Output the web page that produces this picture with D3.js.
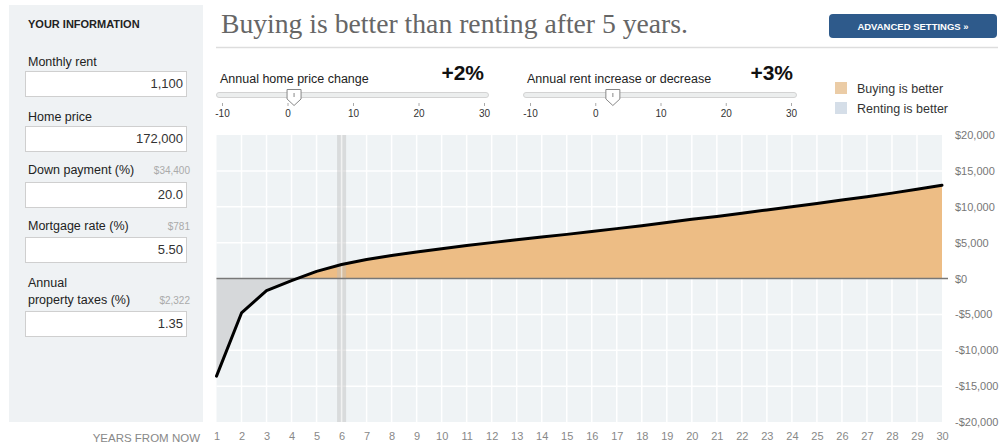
<!DOCTYPE html>
<html>
<head>
<meta charset="utf-8">
<script src="https://cdn.jsdelivr.net/npm/d3@7"></script>
<style>
  html, body { margin: 0; padding: 0; background: #fff; }
  svg { display: block; font-family: "Liberation Sans", Arial, sans-serif; }
</style>
</head>
<body>
<svg id="chart" width="1000" height="444"></svg>
<script>
// ---------- data ----------
const years = d3.range(1, 31);
const buyMinusRent = [
  -13600, -4800, -1700, -300, 1000, 1950, 2650, 3200, 3700, 4150,
  4600, 5000, 5400, 5800, 6150, 6550, 6950, 7350, 7800, 8250,
  8650, 9100, 9550, 10000, 10450, 10950, 11400, 11900, 12450, 13000
];
const yTicks = [-20000, -15000, -10000, -5000, 0, 5000, 10000, 15000, 20000];
const breakEvenYear = 6;
const title = "Buying is better than renting after 5 years.";

const inputLabels = [["Monthly rent"], ["Home price"], ["Down payment (%)"], ["Mortgage rate (%)"], ["Annual", "property taxes (%)"]];
const inputValues = ["1,100", "172,000", "20.0", "5.50", "1.35"];
const inputNotes = ["", "", "$34,400", "$781", "$2,322"];

const sliderLabels = ["Annual home price change", "Annual rent increase or decrease"];
const sliderValues = ["+2%", "+3%"];
const sliderThumbPos = [1, 2.7];
const sliderTicks = [-10, 0, 10, 20, 30];

const legendLabels = ["Buying is better", "Renting is better"];
const legendColors = ["#ebcca6", "#d5dee8"];

// ---------- drawing ----------
const svg = d3.select("#chart");
const hyphenFmt = v => (v < 0 ? "-" : "") + Math.abs(v);

// left panel
svg.append("rect").attr("x", 9).attr("y", 5).attr("width", 194).attr("height", 417).attr("fill", "#eff2f4");
svg.append("text").attr("x", 28).attr("y", 28).attr("font-size", 11).attr("font-weight", "bold")
  .attr("fill", "#222").text("YOUR INFORMATION");

const labelBase = [66, 121, 174, 230, 287];
const boxTop = [71, 126, 182, 237, 311];
inputLabels.forEach((lines, i) => {
  lines.forEach((ln, j) => {
    svg.append("text").attr("x", 28).attr("y", labelBase[i] + j * 16.5).attr("font-size", 12.5)
      .attr("fill", "#222").text(ln);
  });
  if (inputNotes[i]) {
    svg.append("text").attr("x", 190).attr("y", labelBase[i] + (lines.length - 1) * 16.5)
      .attr("text-anchor", "end").attr("font-size", 10).attr("fill", "#aaa").text(inputNotes[i]);
  }
  svg.append("rect").attr("x", 25.5).attr("y", boxTop[i] + 0.5).attr("width", 161).attr("height", 25)
    .attr("fill", "#fff").attr("stroke", "#cfcfcf");
  svg.append("text").attr("x", 183).attr("y", boxTop[i] + 17).attr("text-anchor", "end")
    .attr("font-size", 13).attr("fill", "#333").text(inputValues[i]);
});

// title
svg.append("text").attr("x", 221).attr("y", 33).attr("font-family", "'Liberation Serif', 'DejaVu Serif', serif")
  .attr("font-size", 27).attr("fill", "#666").attr("textLength", 467).attr("lengthAdjust", "spacingAndGlyphs")
  .text(title);
svg.append("line").attr("x1", 216).attr("x2", 998).attr("y1", 47.5).attr("y2", 47.5)
  .attr("stroke", "#ddd").attr("stroke-width", 1.5);

// button
svg.append("rect").attr("x", 829).attr("y", 14).attr("width", 168).attr("height", 24).attr("rx", 4)
  .attr("fill", "#2e5a8b");
svg.append("text").attr("x", 913).attr("y", 30).attr("text-anchor", "middle").attr("font-size", 9.5)
  .attr("font-weight", "bold").attr("fill", "#fff").text("ADVANCED SETTINGS \u00bb");

// sliders
const sliderRanges = [[222, 484], [530, 791]];
const trackRanges = [[216, 488], [523, 796]];
const valueRight = [484, 793];
sliderLabels.forEach((lab, i) => {
  const s = d3.scaleLinear().domain([-10, 30]).range(sliderRanges[i]);
  const g = svg.append("g");
  g.append("text").attr("x", trackRanges[i][0] + 4).attr("y", 83).attr("font-size", 12.5).attr("fill", "#222").text(lab);
  g.append("text").attr("x", valueRight[i]).attr("y", 80).attr("text-anchor", "end").attr("font-size", 21)
    .attr("font-weight", "bold").attr("fill", "#111").text(sliderValues[i]);
  g.append("rect").attr("x", trackRanges[i][0] + 0.5).attr("y", 92.5)
    .attr("width", trackRanges[i][1] - trackRanges[i][0]).attr("height", 5).attr("rx", 2.5)
    .attr("fill", "#eceeee").attr("stroke", "#d3d3d3");
  const ax = d3.axisBottom(s).tickValues(sliderTicks).tickSize(3).tickPadding(4).tickFormat(hyphenFmt);
  const ag = g.append("g").attr("transform", "translate(0,103)").call(ax);
  ag.select(".domain").remove();
  ag.selectAll("line").attr("stroke", "#aaa");
  ag.selectAll("text").attr("font-size", 10).attr("fill", "#333").attr("font-family", "'Liberation Sans', Arial, sans-serif");
  const tx = s(sliderThumbPos[i]);
  g.append("path")
    .attr("d", `M${tx - 7},89.5 L${tx + 7},89.5 L${tx + 7},99 L${tx},105.5 L${tx - 7},99 Z`)
    .attr("fill", "#fff").attr("stroke", "#888").attr("stroke-width", 1);
  g.append("line").attr("x1", tx).attr("x2", tx).attr("y1", 93).attr("y2", 97).attr("stroke", "#888");
});

// legend
legendLabels.forEach((lab, i) => {
  svg.append("rect").attr("x", 835).attr("y", 82 + i * 20).attr("width", 12).attr("height", 12).attr("fill", legendColors[i]);
  svg.append("text").attr("x", 857).attr("y", 93 + i * 20).attr("font-size", 12.5).attr("fill", "#333").text(lab);
});

// main chart
const x = d3.scaleLinear().domain([1, 30]).range([216.5, 942]);
const y = d3.scaleLinear().domain([-20000, 20000]).range([422, 135]);
const data = years.map((yr, i) => ({ yr, v: buyMinusRent[i] }));

svg.append("rect").attr("x", x(1)).attr("y", y(20000)).attr("width", x(30) - x(1))
  .attr("height", y(-20000) - y(20000)).attr("fill", "#eff3f5");

const grid = svg.append("g");
grid.selectAll(".vg").data(years.slice(1, -1)).join("line")
  .attr("x1", d => x(d)).attr("x2", d => x(d)).attr("y1", y(20000)).attr("y2", y(-20000))
  .attr("stroke", "#fff").attr("stroke-width", 1.5);
grid.selectAll(".hg").data(yTicks.slice(1, -1)).join("line")
  .attr("x1", x(1)).attr("x2", x(30)).attr("y1", d => y(d)).attr("y2", d => y(d))
  .attr("stroke", "#fff").attr("stroke-width", 1.5);

const defs = svg.append("defs");
defs.append("clipPath").attr("id", "above").append("rect")
  .attr("x", 0).attr("y", 0).attr("width", 1000).attr("height", y(0));
defs.append("clipPath").attr("id", "below").append("rect")
  .attr("x", 0).attr("y", y(0)).attr("width", 1000).attr("height", 444);

const area = d3.area().x(d => x(d.yr)).y0(y(0)).y1(d => y(d.v));
svg.append("path").datum(data).attr("d", area).attr("fill", "#edbd85").attr("clip-path", "url(#above)");
svg.append("path").datum(data).attr("d", area).attr("fill", "#d6d8da").attr("clip-path", "url(#below)");

// break-even band
svg.append("rect").attr("x", x(breakEvenYear) - 4.5).attr("y", y(20000)).attr("width", 9)
  .attr("height", y(-20000) - y(20000)).attr("fill", "rgba(190,190,190,0.45)");
svg.append("line").attr("x1", x(breakEvenYear)).attr("x2", x(breakEvenYear)).attr("y1", y(20000)).attr("y2", y(-20000))
  .attr("stroke", "rgba(255,255,255,0.55)").attr("stroke-width", 1.5);

// zero line
svg.append("line").attr("x1", x(1)).attr("x2", 948).attr("y1", y(0)).attr("y2", y(0))
  .attr("stroke", "#777").attr("stroke-width", 1.5);

// curve
svg.append("path").datum(data)
  .attr("d", d3.line().x(d => x(d.yr)).y(d => y(d.v)))
  .attr("fill", "none").attr("stroke", "#000").attr("stroke-width", 3)
  .attr("stroke-linejoin", "round").attr("stroke-linecap", "round");

// y axis
const fmt = d3.format(",");
const yAx = d3.axisRight(y).tickValues(yTicks).tickSize(0).tickPadding(0)
  .tickFormat(v => (v < 0 ? "-$" : "$") + fmt(Math.abs(v)));
const yg = svg.append("g").attr("transform", "translate(955,0)").call(yAx);
yg.select(".domain").remove();
yg.selectAll("text").attr("font-size", 11).attr("fill", "#777").attr("font-family", "'Liberation Sans', Arial, sans-serif");

// x axis
const xAx = d3.axisBottom(x).tickValues(years).tickSize(0).tickPadding(0).tickFormat(d3.format("d"));
const xg = svg.append("g").attr("transform", "translate(0,432)").call(xAx);
xg.select(".domain").remove();
xg.selectAll("text").attr("font-size", 11).attr("fill", "#888").attr("font-family", "'Liberation Sans', Arial, sans-serif");

svg.append("text").attr("x", 200).attr("y", 442).attr("text-anchor", "end").attr("font-size", 11.5)
  .attr("fill", "#888").text("YEARS FROM NOW");
</script>
</body>
</html>
